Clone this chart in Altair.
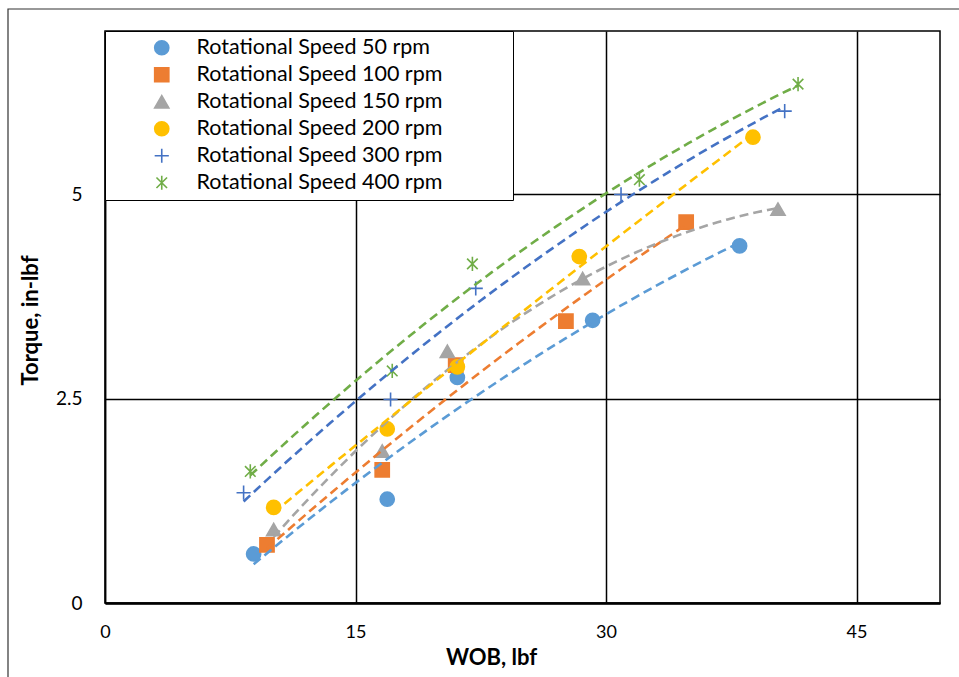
import altair as alt
import pandas as pd

# ---- data ----
series = [
    "Rotational Speed 50 rpm",
    "Rotational Speed 100 rpm",
    "Rotational Speed 150 rpm",
    "Rotational Speed 200 rpm",
    "Rotational Speed 300 rpm",
    "Rotational Speed 400 rpm",
]
wob_50 = [8.9, 16.9, 21.1, 29.2, 38.0]
torque_50 = [0.60, 1.27, 2.76, 3.46, 4.37]
wob_100 = [9.7, 16.6, 21.0, 27.6, 34.8]
torque_100 = [0.71, 1.63, 2.91, 3.45, 4.66]
wob_150 = [10.1, 16.6, 20.5, 28.6, 40.3]
torque_150 = [0.90, 1.86, 3.08, 3.97, 4.82]
wob_200 = [10.1, 16.9, 21.1, 28.4, 38.8]
torque_200 = [1.17, 2.13, 2.89, 4.24, 5.70]
wob_300 = [8.3, 17.1, 22.2, 30.9, 40.7]
torque_300 = [1.35, 2.49, 3.85, 5.00, 6.02]
wob_400 = [8.7, 17.2, 22.0, 32.0, 41.5]
torque_400 = [1.61, 2.84, 4.15, 5.18, 6.35]

colors = ["#5B9BD5", "#ED7D31", "#A5A5A5", "#FFC000", "#4472C4", "#70AD47"]
plus_path = "M-1,0L1,0M0,-1L0,1"
star_path = "M0,-1L0,1M-0.75,-0.75L0.75,0.75M-0.75,0.75L0.75,-0.75"
shapes = ["circle", "square", "triangle-up", "circle", plus_path, star_path]

x_ticks = [0, 15, 30, 45]
y_ticks = [0, 2.5, 5]

all_wob = [wob_50, wob_100, wob_150, wob_200, wob_300, wob_400]
all_torque = [torque_50, torque_100, torque_150, torque_200, torque_300, torque_400]

# invisible trailing space (closed by a word joiner so it is not trimmed)
# so that the legend box keeps the reference's width
PAD = "\u2003\u2003\u2003\u2003\u2060"
legend_names = [s + PAD for s in series]

rows = []
for s, xs, ys in zip(legend_names, all_wob, all_torque):
    for xv, yv in zip(xs, ys):
        rows.append({"series": s, "wob": xv, "torque": yv})
df = pd.DataFrame(rows)

FONT = "Lato"

x_enc = alt.X(
    "wob:Q",
    scale=alt.Scale(domain=[0, 50], nice=False, zero=True),
    axis=alt.Axis(
        values=x_ticks,
        title="WOB, lbf",
        titleX=386,
        titleY=44,
        titleBaseline="top",
        labelPadding=20,
        labelFlush=False,
    ),
)
y_enc = alt.Y(
    "torque:Q",
    scale=alt.Scale(domain=[0, 7], nice=False),
    axis=alt.Axis(
        values=y_ticks,
        format="~g",
        title="Torque, in-lbf",
        titleX=-75,
        titleY=289,
        titleAngle=-90,
        titleBaseline="middle",
        titleAlign="center",
        labelPadding=23,
        labelFontSize=19,
        labelFlush=False,
    ),
)

leg = alt.Legend(title=None, orient="top-left")

points = alt.Chart(df).mark_point(
    filled=True, size=200, strokeWidth=1.6, opacity=1
).encode(
    x=x_enc,
    y=y_enc,
    shape=alt.Shape("series:N", scale=alt.Scale(domain=legend_names, range=shapes), legend=leg),
    fill=alt.Fill("series:N", scale=alt.Scale(domain=legend_names, range=colors), legend=leg),
    stroke=alt.Stroke("series:N", scale=alt.Scale(domain=legend_names, range=colors), legend=leg),
)

trend = alt.Chart(df).transform_regression(
    "wob", "torque", groupby=["series"], method="poly", order=2
).mark_line(strokeDash=[9, 5], strokeWidth=2.6).encode(
    x="wob:Q",
    y="torque:Q",
    color=alt.Color("series:N", scale=alt.Scale(domain=legend_names, range=colors), legend=None),
)

frame = alt.Chart(pd.DataFrame({"f": [0]})).mark_rect(
    fill="transparent", stroke="#333", strokeWidth=1.2
).encode(
    x=alt.value(-97), x2=alt.value(900), y=alt.value(-22), y2=alt.value(700)
)

chart = alt.layer(frame, points, trend).properties(
    width=835,
    height=572,
    padding={"left": 105, "top": 31, "right": 19, "bottom": 74},
    autosize=alt.AutoSizeParams(type="none"),
    background="white",
).configure_view(
    stroke="black", strokeWidth=1.5
).configure_axis(
    grid=True,
    gridColor="black",
    gridWidth=1.5,
    gridOpacity=1,
    ticks=False,
    domain=True,
    domainColor="black",
    domainWidth=1.5,
    labelFont=FONT,
    labelFontSize=18,
    labelColor="black",
    titleFont=FONT,
    titleFontSize=22,
    titleFontWeight="bold",
    titleColor="black",
).configure_axisX(
    domainWidth=2.5
).configure_legend(
    offset=0,
    padding=6,
    fillColor="white",
    strokeColor="black",
    labelFont=FONT,
    labelFontSize=21.5,
    labelColor="black",
    symbolSize=200,
    symbolStrokeWidth=1.6,
    symbolOffset=40,
    labelOffset=24,
    rowPadding=4,
    labelLimit=600,
)

chart.save("out.html", embed_options={"renderer": "svg", "actions": False})
